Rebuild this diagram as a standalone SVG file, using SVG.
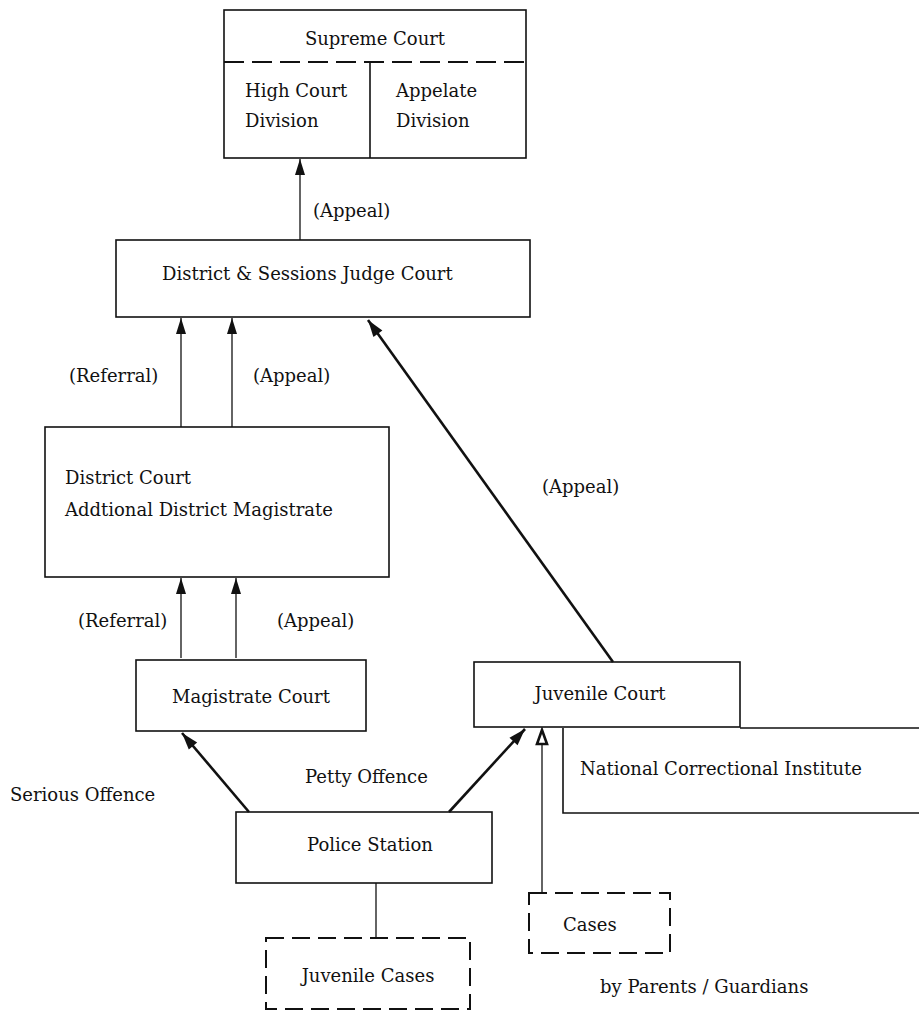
<svg xmlns="http://www.w3.org/2000/svg" width="919" height="1011" viewBox="0 0 919 1011">
<style>
text{font-family:"DejaVu Serif","Liberation Serif",serif;font-size:18px;fill:#111}
.box{fill:none;stroke:#111;stroke-width:1.6}
.dbox{fill:none;stroke:#111;stroke-width:2;stroke-dasharray:18 8}
.thin{stroke:#111;stroke-width:1.3;fill:none}
.thick{stroke:#111;stroke-width:2.6;fill:none}
.c{text-anchor:middle}
</style>
<defs>
<marker id="ah" markerUnits="userSpaceOnUse" markerWidth="18" markerHeight="12" refX="17" refY="6" orient="auto" viewBox="0 0 18 12">
<path d="M17,6 L1,1 L1,11 Z" fill="#111"/>
</marker>
<marker id="ah2" markerUnits="userSpaceOnUse" markerWidth="20" markerHeight="14" refX="19" refY="7" orient="auto" viewBox="0 0 20 14">
<path d="M19,7 L2,1.5 L2,12.5 Z" fill="#111"/>
</marker>
<marker id="ahh" markerUnits="userSpaceOnUse" markerWidth="20" markerHeight="14" refX="18" refY="7" orient="auto" viewBox="0 0 20 14">
<path d="M17,7 L3,2 L3,12 Z" fill="#fff" stroke="#111" stroke-width="2.6" stroke-linejoin="miter"/>
</marker>
</defs>

<g id="supreme-court">
<rect class="box" x="224" y="10" width="302" height="148"/>
<line x1="224" y1="62" x2="526" y2="62" stroke="#111" stroke-width="2" stroke-dasharray="20 8"/>
<line x1="370" y1="62" x2="370" y2="158" stroke="#111" stroke-width="1.6"/>
<text class="c" x="375" y="45">Supreme  Court</text>
<text x="245" y="97">High Court</text>
<text x="245" y="127">Division</text>
<text x="396" y="97">Appelate</text>
<text x="396" y="127">Division</text>
</g>

<g id="district-sessions">
<rect class="box" x="116" y="240" width="414" height="77"/>
<text x="162" y="280">District &amp; Sessions Judge Court</text>
</g>

<g id="district-court">
<rect class="box" x="45" y="427" width="344" height="150"/>
<text x="65" y="484">District Court</text>
<text x="65" y="516">Addtional District Magistrate</text>
</g>

<g id="magistrate-court">
<rect class="box" x="136" y="660" width="230" height="71"/>
<text class="c" x="251" y="703">Magistrate  Court</text>
</g>

<g id="juvenile-court">
<rect class="box" x="474" y="662" width="266" height="65"/>
<text class="c" x="600" y="700">Juvenile  Court</text>
</g>

<g id="national-correctional-institute">
<path class="box" d="M740,728 L919,728 M563,728 L563,813 L919,813"/>
<text x="580" y="775">National  Correctional Institute</text>
</g>

<g id="police-station">
<rect class="box" x="236" y="812" width="256" height="71"/>
<text class="c" x="370" y="851">Police  Station</text>
</g>

<g id="juvenile-cases">
<rect class="dbox" x="266" y="938" width="204" height="71"/>
<text class="c" x="368" y="982">Juvenile  Cases</text>
</g>

<g id="cases">
<rect class="dbox" x="529" y="893" width="141" height="60"/>
<text x="563" y="931">Cases</text>
</g>

<g id="connectors">
<line class="thin" x1="300" y1="240" x2="300" y2="159" marker-end="url(#ah)"/>
<line class="thin" x1="181" y1="427" x2="181" y2="318" marker-end="url(#ah)"/>
<line class="thin" x1="232" y1="427" x2="232" y2="318" marker-end="url(#ah)"/>
<line class="thin" x1="181" y1="658" x2="181" y2="578" marker-end="url(#ah)"/>
<line class="thin" x1="236" y1="658" x2="236" y2="578" marker-end="url(#ah)"/>
<line class="thick" x1="613" y1="662" x2="368" y2="320" marker-end="url(#ah2)"/>
<line class="thick" x1="249" y1="812" x2="182" y2="733" marker-end="url(#ah2)"/>
<line class="thick" x1="449" y1="812" x2="525" y2="729" marker-end="url(#ah2)"/>
<line class="thin" x1="542" y1="892" x2="542" y2="729" marker-end="url(#ahh)"/>
<line class="thin" x1="376" y1="883" x2="376" y2="938"/>
</g>

<g id="labels">
<text x="313" y="217">(Appeal)</text>
<text x="69" y="382">(Referral)</text>
<text x="253" y="382">(Appeal)</text>
<text x="542" y="493">(Appeal)</text>
<text x="78" y="627">(Referral)</text>
<text x="277" y="627">(Appeal)</text>
<text x="305" y="783">Petty Offence</text>
<text x="10" y="801">Serious Offence</text>
<text x="600" y="993">by  Parents / Guardians</text>
</g>
</svg>
